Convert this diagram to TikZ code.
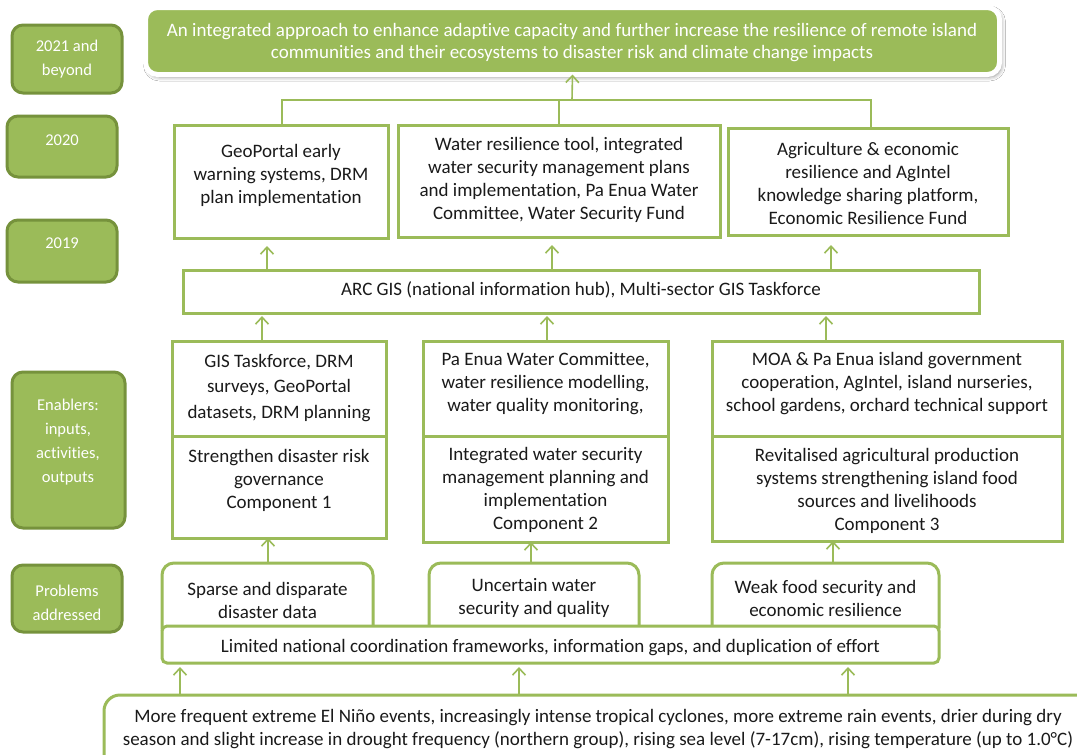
\documentclass[tikz,border=0pt]{standalone}
\usepackage{fontspec}
\setmainfont{Carlito}[Ligatures=NoCommon]
\usetikzlibrary{arrows.meta,shadows,shadows.blur,calc}
\definecolor{gr}{HTML}{9BBB59}
\definecolor{dgr}{HTML}{76923C}
\definecolor{txt}{HTML}{1A1A1A}
\newcommand\mybox[6]{\node[#6,minimum width={#4-#2},minimum height={#5-#3}] (#1) at ({(#2+#4)/2},{(#3+#5)/2}) {};}
\begin{document}
\begin{tikzpicture}[x=1pt,y=-1pt,
 box/.style={draw=gr,line width=3pt,fill=white,inner sep=0pt,outer sep=0pt},
 rbox/.style={box,rounded corners=12pt},
 lbl/.style={draw=dgr,fill=gr,line width=3pt,rounded corners=11pt,inner sep=0pt,outer sep=0pt},
 tx/.style={text=txt,align=center,font=\fontsize{19}{23}\selectfont,inner sep=0pt},
 ltx/.style={text=white,align=center,font=\fontsize{16.5}{24}\selectfont,inner sep=0pt},
 conn/.style={draw=gr,line width=1.6pt},
 arr/.style={conn,-{Straight Barb[length=7pt,width=13pt,line width=1.6pt]}},
]
\useasboundingbox (0,0) rectangle (1077,755);
\fill[white] (0,0) rectangle (1077,755);
\clip (0,0) rectangle (1077,755);

% left labels
\mybox{l1}{12}{25}{122}{93}{lbl}
\mybox{l2}{7}{116}{117}{177}{lbl}
\mybox{l3}{7}{220}{117}{282}{lbl}
\mybox{l4}{12}{372}{125}{528}{lbl}
\mybox{l5}{12}{565}{122}{632}{lbl}
\node[ltx] (tl1) at (67,59) {2021 and\\beyond};
\node[ltx] (tl2) at (62,140) {2020};
\node[ltx] (tl3) at (62,243) {2019};
\node[ltx] (tl4) at (68,442) {Enablers:\\inputs,\\activities,\\outputs};
\node[ltx] (tl5) at (67,602.5) {Problems\\addressed};

% goal
\node[fill=gr,draw=white,line width=5pt,rounded corners=12pt,inner sep=0pt,outer sep=0pt,
  minimum width=854pt,minimum height=67pt,
  blur shadow={shadow xshift=2pt,shadow yshift=-2.5pt,shadow blur radius=4pt,shadow opacity=45}] (goal) at (572.5,41) {};
\node[tx,text=white,font=\fontsize{19}{22}\selectfont] (tgoal) at (572,43) {An integrated approach to enhance adaptive capacity and further increase the resilience of remote island\\communities and their ecosystems to disaster risk and climate change impacts};

% 2020 row
\mybox{a20}{174}{125}{388}{238}{box}
\mybox{b20}{398}{125}{720}{237}{box}
\mybox{c20}{728}{128}{1008}{235}{box}
\node[tx] (ta20) at (281,175) {GeoPortal early\\warning systems, DRM\\plan implementation};
\node[tx] (tb20) at (559,179.5) {Water resilience tool, integrated\\water security management plans\\and implementation, Pa Enua Water\\Committee, Water Security Fund};
\node[tx] (tc20) at (868,183) {Agriculture \& economic\\resilience and AgIntel\\knowledge sharing platform,\\Economic Resilience Fund};

% connectors to goal
\coordinate (jct) at (572,100);
\coordinate (xa) at (282,0); \coordinate (xc) at (871,0);
\draw[conn] (a20.north -| xa) |- (jct) -| (c20.north -| xc);
\draw[conn] (b20.north) |- (jct);
\draw[arr] (jct) -- (goal.south);

% ARC GIS
\mybox{arc}{183}{270}{979}{313}{box}
\node[tx] (tarc) at (581,290) {ARC GIS (national information hub), Multi-sector GIS Taskforce};

\coordinate (ua) at (267,0); \coordinate (ub) at (552,0); \coordinate (uc) at (831,0);
\draw[arr,shorten >=8pt] (arc.north -| ua) -- (a20.south -| ua);
\draw[arr,shorten >=8pt] (arc.north -| ub) -- (b20.south -| ub);
\draw[arr,shorten >=10pt] (arc.north -| uc) -- (c20.south -| uc);

% enablers
\mybox{ea}{172}{341}{386}{436}{box}
\mybox{eb}{423}{341}{668}{436}{box}
\mybox{ec}{712}{341}{1062}{436}{box}
\mybox{ca}{172}{436}{386}{538}{box}
\mybox{cb}{423}{436}{668}{542}{box}
\mybox{cc}{712}{436}{1062}{541}{box}
\node[tx,font=\fontsize{19}{25.5}\selectfont] (tea) at (279,388) {GIS Taskforce, DRM\\surveys, GeoPortal\\datasets, DRM planning};
\node[tx] (teb) at (545.5,384) {Pa Enua Water Committee,\\water resilience modelling,\\water quality monitoring,};
\node[tx] (tec) at (887,384) {MOA \& Pa Enua island government\\cooperation, AgIntel, island nurseries,\\school gardens, orchard technical support};
\node[tx] (tca) at (279,480) {Strengthen disaster risk\\governance\\Component 1};
\node[tx] (tcb) at (545.5,490) {Integrated water security\\management planning and\\implementation\\Component 2};
\node[tx] (tcc) at (887,491) {Revitalised agricultural production\\systems strengthening island food\\sources and livelihoods\\Component 3};

\coordinate (ma) at (262,0); \coordinate (mb) at (547,0); \coordinate (mc) at (826,0);
\draw[arr] (ea.north -| ma) -- ([yshift=-3pt]arc.south -| ma);
\draw[arr] (eb.north -| mb) -- ([yshift=-3pt]arc.south -| mb);
\draw[arr] (ec.north -| mc) -- ([yshift=-3pt]arc.south -| mc);

% problems
\mybox{pa}{162}{563}{373}{640}{rbox}
\mybox{pb}{429}{563}{639}{640}{rbox}
\mybox{pc}{712}{563}{939}{640}{rbox}
\mybox{lim}{162}{626}{939}{663}{box,rounded corners=5pt}
\node[tx] (tpa) at (267.5,600.5) {Sparse and disparate\\disaster data};
\node[tx] (tpb) at (534,598) {Uncertain water\\security and quality};
\node[tx] (tpc) at (825.5,598) {Weak food security and\\economic resilience};
\node[tx] (tlim) at (550.5,648) {Limited national coordination frameworks, information gaps, and duplication of effort};

\coordinate (la) at (268,0); \coordinate (lb) at (531,0); \coordinate (lc) at (833,0);
\draw[arr] (pa.north -| la) -- (ca.south -| la);
\draw[arr] (pb.north -| lb) -- (cb.south -| lb);
\draw[arr] (pc.north -| lc) -- (cc.south -| lc);

% climate
\mybox{clim}{104}{695}{1092}{800}{box,rounded corners=16pt}
\node[tx] (tclim) at (598,729.5) {More frequent extreme El Niño events, increasingly intense tropical cyclones, more extreme rain events, drier during dry\\season and slight increase in drought frequency (northern group), rising sea level (7-17cm), rising temperature (up to 1.0°C)};

\coordinate (ka) at (180,0); \coordinate (kb) at (519,0); \coordinate (kc) at (848,0);
\draw[arr,shorten >=4pt] (clim.north -| ka) -- (lim.south -| ka);
\draw[arr,shorten >=4pt] (clim.north -| kb) -- (lim.south -| kb);
\draw[arr,shorten >=4pt] (clim.north -| kc) -- (lim.south -| kc);
\end{tikzpicture}
\end{document}
